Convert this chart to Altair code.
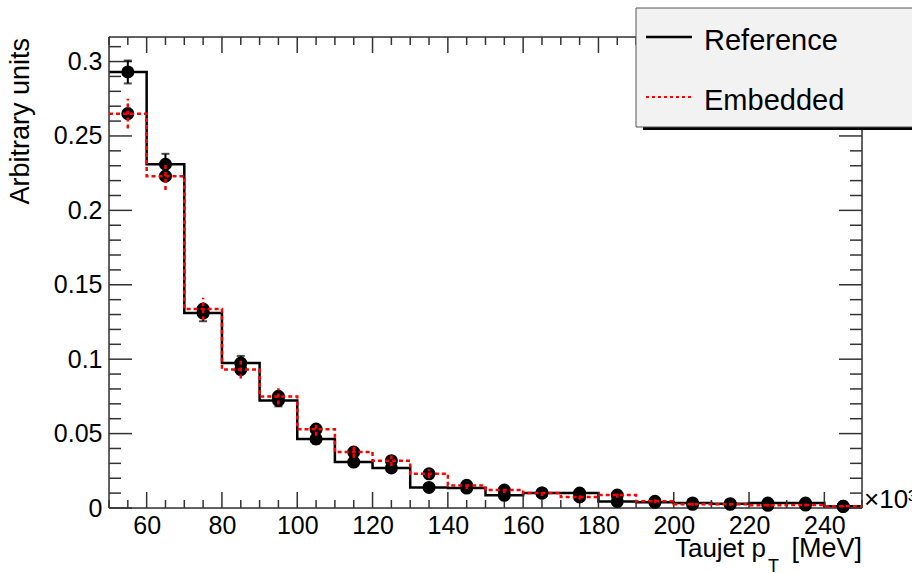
import altair as alt
import pandas as pd

# ---- data ----
bin_low = [50, 60, 70, 80, 90, 100, 110, 120, 130, 140,
           150, 160, 170, 180, 190, 200, 210, 220, 230, 240]
bin_width = 10
ref_vals = [0.293, 0.231, 0.131, 0.0974, 0.0723, 0.0464, 0.0309, 0.0269, 0.0138, 0.0134,
            0.0085, 0.0101, 0.0100, 0.0043, 0.0038, 0.0034, 0.0029, 0.0033, 0.0033, 0.0011]
ref_err = [0.0077, 0.0070, 0.0055, 0.0048, 0.0040, 0.0032, 0.0026, 0.0024, 0.0017, 0.0017,
           0.0013, 0.0014, 0.0014, 0.0009, 0.0009, 0.0008, 0.0008, 0.0008, 0.0008, 0.0005]
emb_vals = [0.265, 0.223, 0.1337, 0.093, 0.075, 0.053, 0.0376, 0.0318, 0.023, 0.0152,
            0.0121, 0.0100, 0.0074, 0.0087, 0.0045, 0.0025, 0.0025, 0.0018, 0.0020, 0.0011]
emb_err = [0.0100, 0.0093, 0.0075, 0.0060, 0.0055, 0.0045, 0.0038, 0.0035, 0.0030, 0.0024,
           0.0021, 0.0020, 0.0017, 0.0018, 0.0013, 0.0010, 0.0010, 0.0009, 0.0009, 0.0006]

x_major = [60, 80, 100, 120, 140, 160, 180, 200, 220, 240]
x_minor = [v for v in range(50, 251, 5) if v not in x_major]
y_major = [0, 0.05, 0.1, 0.15, 0.2, 0.25, 0.3]
y_minor = [round(i * 0.01, 2) for i in range(0, 32) if round(i * 0.01, 2) not in y_major]

X_DOMAIN = [50, 250]
Y_DOMAIN = [0, 0.3165]

W, H = 753, 471
FONT = "Liberation Sans"
FRAME = "#333333"

def step_df(vals):
    return pd.DataFrame({"x": bin_low + [bin_low[-1] + bin_width],
                         "y": vals + [vals[-1]]})

def pts_df(vals, errs):
    return pd.DataFrame({"c": [b + bin_width / 2 for b in bin_low],
                         "v": vals,
                         "lo": [v - e for v, e in zip(vals, errs)],
                         "hi": [v + e for v, e in zip(vals, errs)]})

xs = alt.Scale(domain=X_DOMAIN, nice=False, zero=False)
ys = alt.Scale(domain=Y_DOMAIN, nice=False, zero=False)

x_axis = alt.Axis(values=x_major, ticks=False, domain=False, grid=False, title=None,
                  labelFont=FONT, labelFontSize=25, labelColor="black", labelPadding=5,
                  labelFlush=False)
y_axis = alt.Axis(values=y_major, ticks=False, domain=False, grid=False, title=None,
                  format=".2~f", labelFont=FONT, labelFontSize=25, labelColor="black",
                  labelPadding=7, labelFlush=False)

ref_step = alt.Chart(step_df(ref_vals)).mark_line(
    interpolate="step-after", color="black", strokeWidth=2.5).encode(
    x=alt.X("x:Q", scale=xs, axis=x_axis), y=alt.Y("y:Q", scale=ys, axis=y_axis))
emb_step = alt.Chart(step_df(emb_vals)).mark_line(
    interpolate="step-after", color="#ff0000", strokeWidth=2.5, strokeDash=[4, 3]).encode(
    x=alt.X("x:Q", scale=xs), y=alt.Y("y:Q", scale=ys))

ref_pts = pts_df(ref_vals, ref_err)
emb_pts = pts_df(emb_vals, emb_err)

ref_bar = alt.Chart(ref_pts).mark_rule(color="black", strokeWidth=2).encode(
    x=alt.X("c:Q", scale=xs), y=alt.Y("lo:Q", scale=ys), y2="hi:Q")
ref_cap_lo = alt.Chart(ref_pts).mark_tick(color="black", orient="horizontal", size=8, thickness=2).encode(
    x=alt.X("c:Q", scale=xs), y=alt.Y("lo:Q", scale=ys))
ref_cap_hi = alt.Chart(ref_pts).mark_tick(color="black", orient="horizontal", size=8, thickness=2).encode(
    x=alt.X("c:Q", scale=xs), y=alt.Y("hi:Q", scale=ys))
ref_mk = alt.Chart(ref_pts).mark_point(filled=True, shape="circle", size=170, color="black", opacity=1).encode(
    x=alt.X("c:Q", scale=xs), y=alt.Y("v:Q", scale=ys))

emb_mk = alt.Chart(emb_pts).mark_point(filled=True, shape="circle", size=170, color="black", opacity=1).encode(
    x=alt.X("c:Q", scale=xs), y=alt.Y("v:Q", scale=ys))
emb_bar = alt.Chart(emb_pts).mark_rule(color="#ff0000", strokeWidth=2.5, strokeDash=[4, 3]).encode(
    x=alt.X("c:Q", scale=xs), y=alt.Y("lo:Q", scale=ys), y2="hi:Q")

# ---- inward ticks (ROOT style) ----
xmaj = pd.DataFrame({"t": x_major})
xmin = pd.DataFrame({"t": x_minor})
ymaj = pd.DataFrame({"t": y_major})
ymin = pd.DataFrame({"t": y_minor})

def xticks(df, length):
    b = alt.Chart(df).mark_rule(color=FRAME, strokeWidth=1.5).encode(
        x=alt.X("t:Q", scale=xs), y=alt.value(H), y2=alt.value(H - length))
    t = alt.Chart(df).mark_rule(color=FRAME, strokeWidth=1.5).encode(
        x=alt.X("t:Q", scale=xs), y=alt.value(0), y2=alt.value(length))
    return b + t

def yticks(df, length):
    l = alt.Chart(df).mark_rule(color=FRAME, strokeWidth=1.5).encode(
        y=alt.Y("t:Q", scale=ys), x=alt.value(0), x2=alt.value(length))
    r = alt.Chart(df).mark_rule(color=FRAME, strokeWidth=1.5).encode(
        y=alt.Y("t:Q", scale=ys), x=alt.value(W), x2=alt.value(W - length))
    return l + r

ticks = xticks(xmaj, 16) + xticks(xmin, 8) + yticks(ymaj, 23) + yticks(ymin, 12)

frame_src = pd.DataFrame({"k": [0]})
frame = (
    alt.Chart(frame_src).mark_rule(color=FRAME, strokeWidth=1.5).encode(x=alt.value(0), x2=alt.value(W), y=alt.value(0))
    + alt.Chart(frame_src).mark_rule(color=FRAME, strokeWidth=1.5).encode(x=alt.value(0), x2=alt.value(W), y=alt.value(H))
    + alt.Chart(frame_src).mark_rule(color=FRAME, strokeWidth=1.5).encode(x=alt.value(0), y=alt.value(0), y2=alt.value(H))
    + alt.Chart(frame_src).mark_rule(color=FRAME, strokeWidth=1.5).encode(x=alt.value(W), y=alt.value(0), y2=alt.value(H))
)

# ---- legend box ----
leg_shadow = alt.Chart(frame_src).mark_rect(color="black").encode(
    x=alt.value(534), x2=alt.value(830), y=alt.value(-26), y2=alt.value(93))
leg_box = alt.Chart(frame_src).mark_rect(fill="#f2f2f2", stroke="#555555", strokeWidth=1).encode(
    x=alt.value(527), x2=alt.value(830), y=alt.value(-29), y2=alt.value(90))
leg_ref_line = alt.Chart(frame_src).mark_rule(color="black", strokeWidth=2.5).encode(
    x=alt.value(537), x2=alt.value(583), y=alt.value(0))
leg_emb_line = alt.Chart(frame_src).mark_rule(color="#ff0000", strokeWidth=2, strokeDash=[3, 3]).encode(
    x=alt.value(537), x2=alt.value(583), y=alt.value(60))
leg_ref_txt = alt.Chart(frame_src).mark_text(text="Reference", font=FONT, fontSize=29, align="left",
                                             baseline="alphabetic", color="black").encode(
    x=alt.value(595), y=alt.value(13))
leg_emb_txt = alt.Chart(frame_src).mark_text(text="Embedded", font=FONT, fontSize=29, align="left",
                                             baseline="alphabetic", color="black").encode(
    x=alt.value(595), y=alt.value(73))

# ---- titles ----
ytitle = alt.Chart(frame_src).mark_text(text="Arbitrary units", font=FONT, fontSize=27, angle=270,
                                        align="right", baseline="alphabetic", color="black").encode(
    x=alt.value(-80), y=alt.value(1))
xt1 = alt.Chart(frame_src).mark_text(text="Taujet p", font=FONT, fontSize=26, align="right",
                                     baseline="alphabetic", color="black").encode(
    x=alt.value(657), y=alt.value(520))
xt2 = alt.Chart(frame_src).mark_text(text="T", font=FONT, fontSize=18, align="left",
                                     baseline="alphabetic", color="black").encode(
    x=alt.value(659), y=alt.value(535))
xt3 = alt.Chart(frame_src).mark_text(text="[MeV]", font=FONT, fontSize=27, align="right",
                                     baseline="alphabetic", color="black").encode(
    x=alt.value(753), y=alt.value(520))
expo = alt.Chart(frame_src).mark_text(text="×10³", font=FONT, fontSize=26, align="left",
                                      baseline="alphabetic", color="black").encode(
    x=alt.value(755), y=alt.value(471))

chart = alt.layer(
    ref_step, ticks, frame,
    ref_bar, ref_cap_lo, ref_cap_hi, ref_mk,
    emb_mk, emb_step, emb_bar,
    leg_shadow, leg_box, leg_ref_line, leg_emb_line, leg_ref_txt, leg_emb_txt,
    ytitle, xt1, xt2, xt3, expo,
).properties(
    width=W, height=H,
    autosize=alt.AutoSizeParams(type="none"),
    padding={"left": 109, "top": 37, "right": 50, "bottom": 65},
).configure_view(stroke=None).configure(background="white")

chart.save("out.html", embed_options={"renderer": "svg", "actions": False})
